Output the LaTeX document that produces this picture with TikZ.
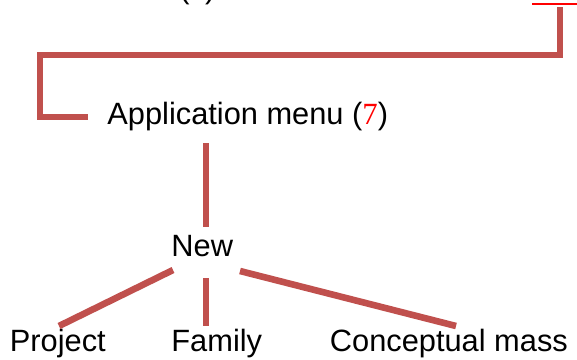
\documentclass[tikz,border=0pt]{standalone}
\usepackage{fontspec}
\setmainfont{Liberation Sans}
\newfontfamily\numfont{Liberation Serif}
\usetikzlibrary{calc}
\definecolor{linkred}{RGB}{192,80,77}
\newcommand{\menunum}[1]{{\numfont\color{red}#1}}

\begin{document}
\begin{tikzpicture}[x=0.5pt,y=-0.5pt,
    link/.style={draw=linkred,line width=3.3pt},
    label/.style={inner sep=0pt,anchor=base west,font=\fontsize{15.4}{18}\selectfont}]
    \useasboundingbox (0,0) rectangle (577,359);
    \clip (0,0) rectangle (577,359); % Cuts the menu above...

    \node[label] (file)  at (179,-2)   {(\menunum{6})};
    \node[label] (app)   at (107,124)  {Application menu (\menunum{7})};
    \node[label] (new)   at (171,256)  {New};
    \node[label] (proj)  at (9.5,351)  {Project};
    \node[label] (fam)   at (171,351)  {Family};
    \node[label] (mass)  at (329.5,351) {Conceptual mass};

    \coordinate (drop)  at (560,7);
    \coordinate (elbow) at (40,55);
    \coordinate (appin) at ($(app.base west)+(-19,-7)$);

    \draw[red,line width=0.7pt] (532,4) -- (577,4);
    \draw[link] (drop) |- (elbow) |- (appin);
    \draw[link] ($(app.base west)+(99,19)$) -- ($(new.base west)+(35,-29)$);
    \draw[link] ($(new.base west)+(2,14)$)  -- ($(proj.base west)+(49.5,-25)$);
    \draw[link] ($(new.base west)+(35,22)$) -- ($(fam.base west)+(35,-25)$);
    \draw[link] ($(new.base west)+(69,15)$) -- ($(mass.base west)+(126.5,-25)$);
\end{tikzpicture}
\end{document}
